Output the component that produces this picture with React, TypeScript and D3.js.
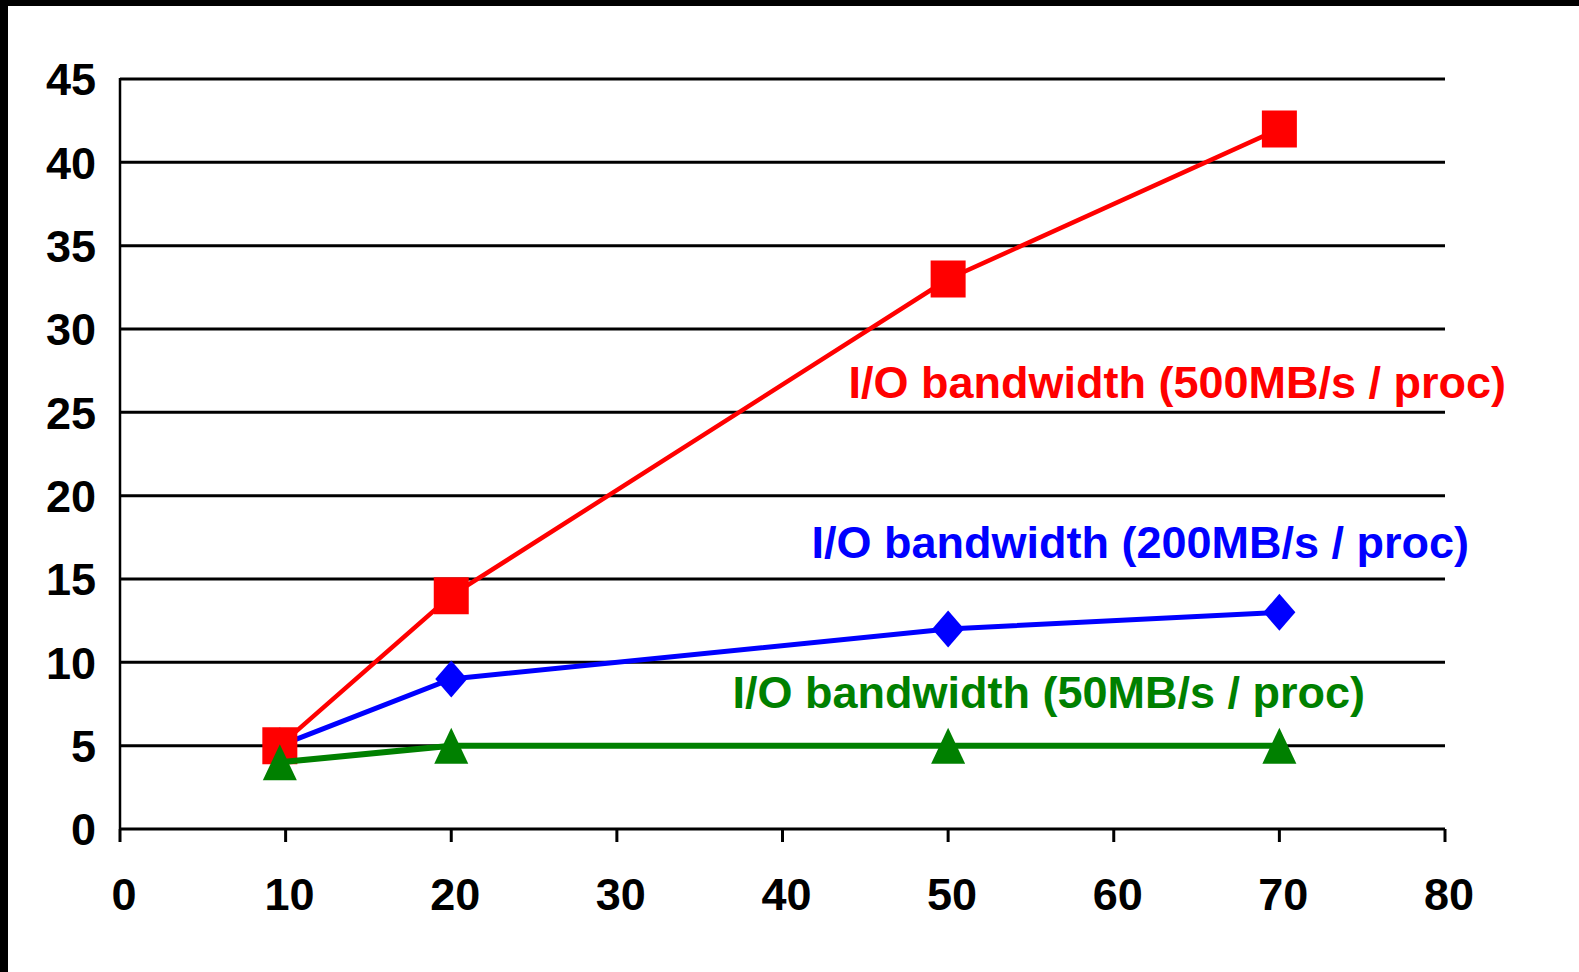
import { useMemo } from "react";
import { line, scaleLinear, symbol } from "d3";
import type { SymbolType } from "d3";

const totalWidth = 1579;
const totalHeight = 972;
const xLeft = 120;
const xRight = 1445;
const yTop = 79;
const yBottom = 829;

const xTicks = [0, 10, 20, 30, 40, 50, 60, 70, 80];
const yTicks = [0, 5, 10, 15, 20, 25, 30, 35, 40, 45];

const procs = [9.65, 20, 50, 70];
const speedup500 = [5, 14, 33, 42];
const speedup200 = [5, 9, 12, 13];
const speedup50 = [4, 5, 5, 5];

const seriesNames = [
  "I/O bandwidth (500MB/s / proc)",
  "I/O bandwidth (200MB/s / proc)",
  "I/O bandwidth (50MB/s / proc)",
];

type Point = { x: number; y: number };

const font = "'Liberation Sans', Arial, sans-serif";

// marker shapes sized by their box (w x h), centred on the point
const boxSquare = (w: number, h: number): SymbolType => ({
  draw(ctx) {
    ctx.rect(-w / 2, -h / 2, w, h);
  },
});
const boxDiamond = (w: number, h: number): SymbolType => ({
  draw(ctx) {
    ctx.moveTo(0, -h / 2);
    ctx.lineTo(w / 2, 0);
    ctx.lineTo(0, h / 2);
    ctx.lineTo(-w / 2, 0);
    ctx.closePath();
  },
});
const boxTriangle = (w: number, h: number): SymbolType => ({
  draw(ctx) {
    ctx.moveTo(0, -h / 2);
    ctx.lineTo(w / 2, h / 2);
    ctx.lineTo(-w / 2, h / 2);
    ctx.closePath();
  },
});

export default function App() {
  const { xScale, yScale, series } = useMemo(() => {
    const xScale = scaleLinear().domain([0, 80]).range([xLeft, xRight]);
    const yScale = scaleLinear().domain([0, 45]).range([yBottom, yTop]);
    const toPoints = (vals: number[]) => procs.map((x, i) => ({ x, y: vals[i] }));
    // drawn in this order: blue under red, green on top
    const series = [
      {
        name: seriesNames[1],
        points: toPoints(speedup200),
        color: "#0000ff",
        width: 5,
        shape: symbol(boxDiamond(32, 37))(),
        labelX: 1469,
        labelY: 558,
      },
      {
        name: seriesNames[0],
        points: toPoints(speedup500),
        color: "#ff0000",
        width: 4.5,
        shape: symbol(boxSquare(35, 37))(),
        labelX: 1506,
        labelY: 398,
      },
      {
        name: seriesNames[2],
        points: toPoints(speedup50),
        color: "#008000",
        width: 6,
        shape: symbol(boxTriangle(34, 36))(),
        labelX: 1365,
        labelY: 708,
      },
    ];
    return { xScale, yScale, series };
  }, []);

  const lineBuilder = line<Point>()
    .x((d) => xScale(d.x))
    .y((d) => yScale(d.y));

  return (
    <svg
      width={totalWidth}
      height={totalHeight}
      viewBox={`0 0 ${totalWidth} ${totalHeight}`}
      style={{ position: "absolute", left: 0, top: 0, background: "white" }}
    >
      <rect x={0} y={0} width={totalWidth} height={6} fill="black" />
      <rect x={0} y={0} width={8} height={totalHeight} fill="black" />

      {yTicks.map((t) => (
        <g key={t}>
          {t > 0 && (
            <line x1={xLeft} x2={xRight} y1={yScale(t)} y2={yScale(t)} stroke="black" strokeWidth={3} />
          )}
          <text
            x={96}
            y={yScale(t)}
            dy="0.36em"
            textAnchor="end"
            fontFamily={font}
            fontWeight="bold"
            fontSize={45}
          >
            {t}
          </text>
        </g>
      ))}

      <line x1={xLeft} x2={xLeft} y1={yTop - 1} y2={yBottom} stroke="black" strokeWidth={2.5} />
      <line x1={xLeft} x2={xRight} y1={yBottom} y2={yBottom} stroke="black" strokeWidth={3} />
      {xTicks.map((t) => (
        <g key={t}>
          <line x1={xScale(t)} x2={xScale(t)} y1={yBottom} y2={yBottom + 13} stroke="black" strokeWidth={3} />
          <text
            x={xScale(t) + 4}
            y={910}
            textAnchor="middle"
            fontFamily={font}
            fontWeight="bold"
            fontSize={45}
          >
            {t}
          </text>
        </g>
      ))}

      {series.map((s) => (
        <g key={s.name}>
          <path d={lineBuilder(s.points) ?? ""} fill="none" stroke={s.color} strokeWidth={s.width} />
          {s.points.map((p) => (
            <path
              key={p.x}
              d={s.shape ?? ""}
              fill={s.color}
              transform={`translate(${xScale(p.x)}, ${yScale(p.y)})`}
            />
          ))}
          <text
            x={s.labelX}
            y={s.labelY}
            textAnchor="end"
            fontFamily={font}
            fontWeight="bold"
            fontSize={45}
            fill={s.color}
          >
            {s.name}
          </text>
        </g>
      ))}
    </svg>
  );
}
